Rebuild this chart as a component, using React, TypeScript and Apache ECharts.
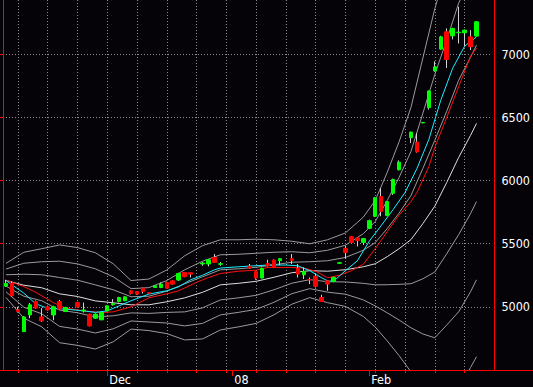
import React, { useEffect, useRef } from "react";
import * as echarts from "echarts";

const categories: string[] = [
  "2007-11-08","2007-11-09","2007-11-12","2007-11-13","2007-11-14","2007-11-15","2007-11-16",
  "2007-11-19","2007-11-20","2007-11-21","2007-11-22","2007-11-23","2007-11-26","2007-11-27",
  "2007-11-28","2007-11-29","2007-11-30",
  "2007-12-03","2007-12-04","2007-12-05","2007-12-06","2007-12-07","2007-12-10","2007-12-11",
  "2007-12-12","2007-12-13","2007-12-14","2007-12-17","2007-12-18","2007-12-19","2007-12-20",
  "2007-12-21","2007-12-24","2007-12-25","2007-12-26","2007-12-27","2007-12-28","2007-12-31",
  "2008-01-01","2008-01-02","2008-01-03","2008-01-04","2008-01-07","2008-01-08","2008-01-09",
  "2008-01-10","2008-01-11","2008-01-14","2008-01-15","2008-01-16","2008-01-17","2008-01-18",
  "2008-01-21","2008-01-22","2008-01-23","2008-01-24","2008-01-25","2008-01-28","2008-01-29",
  "2008-01-30","2008-01-31",
  "2008-02-01","2008-02-04","2008-02-05","2008-02-06","2008-02-07","2008-02-08","2008-02-11",
  "2008-02-12","2008-02-13","2008-02-14","2008-02-15","2008-02-18","2008-02-19","2008-02-20",
  "2008-02-21","2008-02-22","2008-02-25","2008-02-26","2008-02-27","2008-02-28","2008-02-29",
];

const monthLabels: Record<string, string> = {
  "2007-12-03": "Dec",
  "2008-01-01": "08",
  "2008-02-01": "Feb",
};

const yTickLabels = [5000, 5500, 6000, 6500, 7000];

const candleOpen: (number | null)[] = [
  5164,5185,4976,4804,4936,5042,4920,5000,4936,5042,
  4963,null,5034,4968,4942,4910,4897,4968,5016,5042,
  5048,5127,5122,5148,5112,5153,5153,5193,5206,5212,
  5272,5270,null,5339,5339,5391,5337,null,null,null,
  null,5320,5278,5228,5343,5370,5365,null,5381,5304,
  5254,5216,5242,5074,5206,5201,5345,5463,5555,5545,
  5510,5622,5717,5873,5722,5899,6085,null,6339,6304,
  6456,6577,6868,7040,7177,7145,7170,7169,7137,7143,
  null,null,
];
const candleClose: (number | null)[] = [
  5185,5087,4963,4920,5016,4990,4889,4976,5000,4982,
  4995,null,5000,4975,4849,4942,4955,5008,5026,5074,
  5079,5106,5101,5122,5108,5167,5180,5148,5180,5264,
  5238,5259,null,5347,5373,5352,5341,null,null,null,
  null,5307,5228,5305,5325,5314,5381,null,5368,5259,
  5280,5214,5163,5042,5180,5233,5349,5431,5510,5524,
  5540,5682,5863,5756,5833,6008,6145,null,6383,6226,
  6460,6709,6899,7137,6958,7204,7174,7190,7058,7256,
  null,null,
];
const candleLow: (number | null)[] = [
  5158,5080,4955,4800,4910,4985,4880,4970,4894,4976,
  4958,null,4995,4955,4845,4905,4895,4965,5010,5035,
  5045,5098,5095,5106,5105,5150,5148,5145,5175,5205,
  5235,5232,null,5325,5320,5350,5325,null,null,null,
  null,5300,5215,5225,5318,5310,5331,null,5339,5232,
  5220,5180,5153,5038,5127,5195,5343,5381,5505,5478,
  5490,5615,5710,5717,5718,5886,6080,null,6296,6220,
  6454,6561,6860,7035,6891,7117,7085,7063,7032,7140,
  null,null,
];
const candleHigh: (number | null)[] = [
  5214,5200,5000,4925,5030,5050,4990,5010,5008,5055,
  5000,null,5040,5034,4945,4948,4960,5012,5061,5080,
  5085,5130,5125,5153,5115,5170,5193,5200,5210,5270,
  5276,5272,null,5355,5375,5418,5355,null,null,null,
  null,5339,5282,5310,5373,5375,5385,null,5418,5339,
  5312,5232,5259,5095,5212,5238,5351,5484,5560,5550,
  5545,5690,5870,5939,5838,6015,6159,null,6386,6375,
  6462,6712,6944,7145,7204,7208,7375,7195,7190,7262,
  null,null,
];

const bandIdx = [0,3,6,9,12,15,18,21,24,27,30,33,36,39,42,45,48,51,54,57,60,62,64,66,68,70,72,74,76,78,79];
const midLine = [5209,5171,5151,5103,5082,5047,5032,5016,5016,5040,5071,5115,5174,5186,5202,5234,5270,5286,5282,5294,5317,5341,5397,5460,5532,5659,5797,5984,6182,6357,6452];
const upper1 = [5254,5258,5254,5232,5211,5174,5135,5080,5084,5124,5182,5238,5293,5301,5313,5333,5353,5357,5365,5391,5448,5508,5619,5742,5881,6096,6318,6548,6793,6976,7071];
const upper2 = [5299,5345,5357,5361,5340,5301,5238,5144,5152,5208,5293,5361,5412,5416,5424,5432,5436,5428,5448,5488,5579,5675,5841,6024,6230,6533,6839,7112,7404,7595,7690];
const upper3 = [5344,5432,5460,5490,5469,5428,5341,5208,5220,5292,5404,5484,5531,5531,5535,5531,5519,5499,5531,5585,5710,5842,6063,6306,6579,6970,7360,7676,8015,8214,8309];
const lower1 = [5164,5084,5048,4974,4953,4920,4929,4952,4948,4956,4960,4992,5055,5071,5091,5135,5187,5215,5199,5197,5186,5174,5175,5178,5183,5222,5276,5420,5571,5738,5833];
const lower2 = [5119,4997,4945,4845,4824,4793,4826,4888,4880,4872,4849,4869,4936,4956,4980,5036,5104,5144,5116,5100,5055,5007,4953,4896,4834,4785,4755,4856,4960,5119,5214];
const lower3 = [5074,4910,4842,4716,4695,4666,4723,4824,4812,4788,4738,4746,4817,4841,4869,4937,5021,5073,5033,5003,4924,4840,4731,4614,4485,4348,4234,4292,4349,4520,4605];

const cyanIdx = [0,3,5,7,10,13,15,17,19,21,24,27,29,31,33,35,36,39,44,47,49,51,53,54,55,56,57,59,61,63,65,67,69,71,73,75,77,79];
const cyanLine = [5208,5108,5024,4988,4982,4968,4956,4968,5008,5048,5101,5127,5159,5214,5250,5293,5307,5317,5331,5331,5325,5286,5230,5206,5202,5245,5286,5365,5520,5643,5770,5905,6095,6325,6635,6889,7063,7137];

const redIdx = [0,3,5,8,10,13,16,18,21,24,27,29,32,34,36,39,42,44,48,50,52,54,56,58,60,62,64,66,68,69,71,72,74,76,78,79];
const redLine = [5212,5160,5115,5032,4990,4968,4955,4960,5000,5071,5103,5127,5194,5232,5264,5282,5290,5312,5312,5307,5282,5230,5250,5286,5337,5460,5595,5725,5833,5905,6110,6262,6500,6742,6984,7048];

const FONT = "'DejaVu Sans Condensed', 'DejaVu Sans', sans-serif";

const isMonday = (_i: number, v: string) => new Date(v + "T00:00:00Z").getUTCDay() === 1;
const isMonthStart = (_i: number, v: string) => v in monthLabels;

function lineSeries(idx: number[], vals: number[], color: string, z: number) {
  return {
    type: "line",
    data: idx.map((i, k) => [categories[i], vals[k]]),
    symbol: "none",
    showSymbol: false,
    lineStyle: { color, width: 1 },
    itemStyle: { color },
    silent: true,
    clip: true,
    z,
  };
}

const SHIFT = 9;

export default function App() {
  const ref = useRef<HTMLDivElement>(null);
  useEffect(() => {
    const chart = echarts.init(ref.current!, null, { renderer: "svg" });
    const wickData = categories.map((_, i) =>
      candleOpen[i] == null
        ? ["-", "-", "-", "-"]
        : [candleOpen[i], candleClose[i], candleLow[i], candleHigh[i]]
    );
    const bodyData = categories.map((_, i) => {
      const o = candleOpen[i], c = candleClose[i];
      if (o == null || c == null) return ["-", "-", "-", "-"];
      return [o, c, Math.min(o, c), Math.max(o, c)];
    });
    const band = "#9a9a9a";
    const option: any = {
      animation: false,
      backgroundColor: "#050308",
      textStyle: { fontFamily: FONT },
      grid: { left: 3, right: 38, top: 0, bottom: 17, containLabel: false },
      xAxis: [
        {
          type: "category",
          data: categories,
          boundaryGap: true,
          position: "bottom",
          axisLine: { show: true, onZero: false, lineStyle: { color: "#ff0000", width: 1 } },
          axisTick: { show: true, alignWithLabel: true, interval: isMonday, length: 3, lineStyle: { color: "#ff0000" } },
          axisLabel: { show: false },
          splitLine: { show: true, alignWithLabel: true, interval: isMonday, lineStyle: { color: "#8c8c8c", width: 1, type: [1, 2] } },
        },
        {
          type: "category",
          data: categories,
          boundaryGap: true,
          position: "bottom",
          axisLine: { show: false, onZero: false },
          axisTick: { show: true, alignWithLabel: true, interval: isMonthStart, length: 6, lineStyle: { color: "#ff0000" } },
          axisLabel: {
            show: true,
            interval: isMonthStart,
            formatter: (v: string) => monthLabels[v] || "",
            color: "#ffffff",
            fontSize: 12.5,
            fontFamily: FONT,
            align: "left",
            margin: 3,
            padding: [0, 0, 0, 2],
          },
          splitLine: { show: false },
        },
      ],
      yAxis: [
        {
          type: "value",
          position: "right",
          offset: 3,
          min: 4500,
          max: 7500,
          interval: 500,
          axisLine: { show: true, lineStyle: { color: "#ff0000", width: 1 } },
          axisTick: { show: false },
          axisLabel: {
            color: "#ffffff",
            fontSize: 12.5,
            fontFamily: FONT,
            margin: 7,
            formatter: (v: number) => (yTickLabels.includes(v) ? String(v) : ""),
          },
          splitLine: { show: false },
          splitArea: { show: false },
        },
        {
          type: "value",
          position: "left",
          min: 4500,
          max: 7500,
          interval: 500,
          axisLine: { show: true, onZero: false, lineStyle: { color: "#ff0000", width: 1 } },
          axisTick: { show: true, length: 3, lineStyle: { color: "#ff0000" } },
          axisLabel: { show: false },
          splitLine: { show: true, lineStyle: { color: "#8c8c8c", width: 1, type: [1, 2] } },
          splitArea: { show: false },
        },
      ],
      graphic: [
        {
          type: "line",
          shape: { x1: 0, y1: 370.5 + SHIFT, x2: 533, y2: 370.5 + SHIFT },
          style: { stroke: "#ff0000", lineWidth: 1 },
          silent: true,
          z: 100,
        },
      ],
      series: [
        lineSeries(bandIdx, upper3, band, 2),
        lineSeries(bandIdx, upper2, band, 2),
        lineSeries(bandIdx, upper1, band, 2),
        lineSeries(bandIdx, lower1, band, 2),
        lineSeries(bandIdx, lower2, band, 2),
        lineSeries(bandIdx, lower3, band, 2),
        lineSeries(bandIdx, midLine, "#dedede", 3),
        lineSeries(redIdx, redLine, "#ff1010", 4),
        lineSeries(cyanIdx, cyanLine, "#18f0ff", 5),
        {
          type: "candlestick",
          data: wickData,
          barWidth: 1,
          silent: true,
          z: 6,
          itemStyle: {
            color: "#d0d0d0",
            color0: "#d0d0d0",
            borderColor: "#d0d0d0",
            borderColor0: "#d0d0d0",
            borderWidth: 1,
          },
        },
        {
          type: "candlestick",
          data: bodyData,
          barWidth: 4,
          silent: true,
          z: 7,
          itemStyle: {
            color: "#00ff00",
            color0: "#ff0000",
            borderColor: "#00ff00",
            borderColor0: "#ff0000",
            borderWidth: 1,
          },
        },
      ],
    };
    chart.setOption(option);
    return () => chart.dispose();
  }, []);
  return (
    <div style={{ position: "fixed", left: 0, top: 0, width: 533, height: 387, overflow: "hidden", background: "#050308" }}>
      <div
        ref={ref}
        style={{ position: "absolute", left: 0, top: -SHIFT, width: 533, height: 387 + SHIFT }}
      />
    </div>
  );
}
